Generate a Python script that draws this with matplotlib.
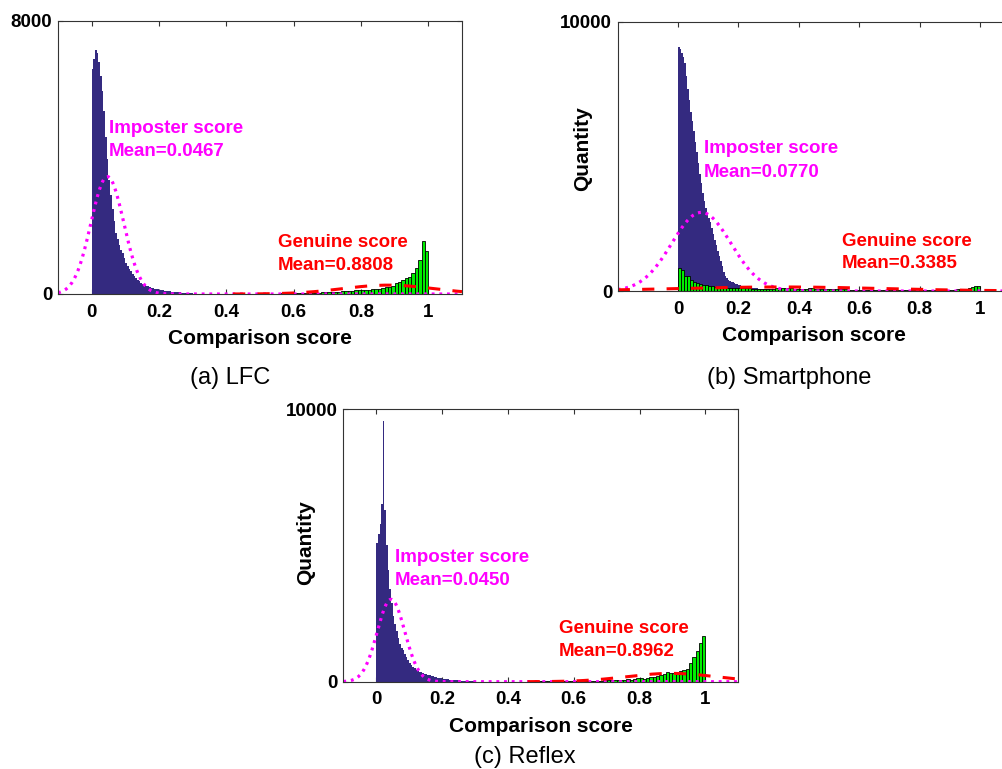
import matplotlib.pyplot as plt
import numpy as np

plt.rcParams['font.family'] = ['Liberation Sans', 'DejaVu Sans']

# imposter histograms, bin width 0.005 starting at 0
imp_a = [6600, 6900, 7150, 7050, 6800, 6400, 5950, 5350, 4600, 3950,
         3350, 2900, 2500, 2150, 1800, 1600, 1450, 1300, 1200, 1050,
         920, 830, 740, 660, 600, 540, 480, 420, 370, 330,
         300, 270, 245, 225, 205, 185, 170, 155, 145, 135,
         125, 115, 105, 96, 88, 80, 74, 68, 62, 57,
         52, 48, 44, 41, 38, 35, 33, 31, 29, 27]
imp_b = [9050, 9000, 8850, 8700, 8450, 8000, 7500, 7100, 6650, 6300,
         5950, 5550, 5150, 4750, 4350, 4000, 3650, 3350, 3100, 2850,
         2700, 2550, 2350, 2100, 1900, 1700, 1500, 1300, 1100, 920,
         720, 560, 470, 420, 380, 350, 320, 290, 270, 250,
         230, 215, 200, 185, 170, 155, 145, 135, 125, 115,
         108, 102, 96, 90, 85, 80, 75, 70, 66, 62,
         58, 55, 52, 49, 46, 44, 42, 40, 38, 36,
         34, 32, 30, 29, 28, 27, 26, 25, 24, 23]
imp_c = [5100, 5400, 5800, 6500, 9550, 6300, 5000, 4100, 3400, 2900,
         2400, 2100, 1850, 1600, 1400, 1250, 1150, 1030, 920, 800,
         700, 620, 550, 490, 440, 400, 370, 340, 310, 285,
         265, 250, 235, 215, 195, 175, 160, 145, 135, 125,
         115, 105, 96, 88, 80, 73, 67, 61, 56, 51,
         47, 43, 40, 37, 34, 31, 29, 27, 25, 23]

# genuine histograms, bin width 0.01
gen_a = [3, 4, 4, 5, 5, 6, 6, 7, 8, 9,
         10, 10, 11, 12, 13, 14, 15, 17, 18, 20,
         22, 24, 26, 28, 31, 34, 38, 42, 46, 50,
         55, 60, 66, 72, 78, 85, 92, 98, 105, 112,
         120, 130, 125, 140, 150, 137, 176, 195, 215, 244,
         322, 342, 410, 469, 508, 605, 762, 1005, 1563, 1250]
gen_b = [870, 790, 570, 540, 410, 340, 290, 260, 225, 210,
         185, 170, 150, 140, 130, 125, 120, 115, 110, 105,
         100, 100, 95, 95, 90, 90, 90, 88, 88, 86,
         86, 90, 95, 100, 120, 115, 100, 95, 90, 88,
         85, 82, 80, 95, 100, 80, 75, 72, 70, 68,
         66, 64, 62, 60, 58, 56, 55, 54, 53, 52,
         51, 50, 49, 48, 48, 47, 46, 46, 45, 45,
         44, 44, 43, 43, 42, 42, 42, 41, 41, 41,
         40, 40, 40, 41, 41, 42, 43, 44, 45, 47,
         50, 53, 56, 60, 65, 75, 110, 160, 185, 170]
gen_c = [3, 3, 4, 4, 5, 5, 6, 6, 7, 8,
         9, 10, 11, 12, 13, 14, 15, 16, 18, 20,
         22, 24, 26, 28, 30, 33, 36, 40, 44, 48,
         52, 56, 60, 65, 70, 75, 110, 80, 90, 150,
         140, 110, 135, 160, 185, 210, 245, 270, 340, 305,
         330, 365, 400, 430, 450, 670, 915, 1135, 1430, 1675]
gen_start = [0.4, 0.0, 0.4]

# gaussian fits: mean, sigma, peak height
imp_fit = [(0.0467, 0.0487, 3440), (0.0770, 0.098, 2920), (0.0450, 0.042, 3020)]
gen_fit = [(0.8808, 0.135, 260), (0.3385, 0.34, 150), (0.8962, 0.135, 305)]
gen_fit_from = [0.42, -0.2, 0.46]

imp_means = ['0.0467', '0.0770', '0.0450']
gen_means = ['0.8808', '0.3385', '0.8962']
ymax = [8000, 10000, 10000]
xmin = [-0.1, -0.2, -0.1]
captions = ['(a) LFC', '(b) Smartphone', '(c) Reflex']

fig = plt.figure(figsize=(10.02, 7.69), dpi=100)
W, H = 1002, 769
boxes = [(58, 21, 462, 294), (617.7, 21.7, 1010.2, 291), (343.3, 409, 738.3, 681.7)]
imp_txt = [(0.052, 4727, 4053), (0.086, 5113, 4244), (0.057, 4400, 3546)]
gen_txt = [(0.554, 1386, 703), (0.5416, 1671, 843), (0.554, 1775, 953)]
ylab_pos = [None, (-0.064, 0.527), (-0.0716, 0.51)]
cap_pos = [(230, 378), (789, 378), (525, 757)]

imp_list = [imp_a, imp_b, imp_c]
gen_list = [gen_a, gen_b, gen_c]

for i in range(3):
    l, t, r, b = boxes[i]
    ax = fig.add_axes([l / W, 1 - b / H, (r - l) / W, (b - t) / H])

    imp = np.array(imp_list[i])
    edges = 0.005 * np.arange(len(imp) + 1)
    ax.stairs(imp, edges, fill=True, color='#342a80', lw=0, zorder=2)

    gen = np.array(gen_list[i])
    gx = gen_start[i] + 0.01 * np.arange(len(gen))
    ax.bar(gx, gen, width=0.01, align='edge', color='#00ee00',
           edgecolor='black', linewidth=0.6, zorder=3)

    x = np.linspace(xmin[i], 1.1, 400)
    m, s, h = imp_fit[i]
    ax.plot(x, h * np.exp(-(x - m) ** 2 / (2 * s ** 2)), color='#ff00ff',
            lw=2.3, dashes=(0.9, 1.5), zorder=4)
    m, s, h = gen_fit[i]
    xg = np.linspace(gen_fit_from[i], 1.1, 300)
    ax.plot(xg, h * np.exp(-(xg - m) ** 2 / (2 * s ** 2)), color='#ff0000',
            lw=2.2, dashes=(4, 4), zorder=4)

    tx, y1, y2 = imp_txt[i]
    ax.text(tx, y1, 'Imposter score', color='#ff00ff', fontsize=13.5,
            fontweight='bold', zorder=5)
    ax.text(tx, y2, 'Mean=' + imp_means[i], color='#ff00ff', fontsize=13.5,
            fontweight='bold', zorder=5)
    tx, y1, y2 = gen_txt[i]
    ax.text(tx, y1, 'Genuine score', color='#ff0000', fontsize=13.5,
            fontweight='bold', zorder=5)
    ax.text(tx, y2, 'Mean=' + gen_means[i], color='#ff0000', fontsize=13.5,
            fontweight='bold', zorder=5)

    ax.set_xlim(xmin[i], 1.1)
    ax.set_ylim(0, ymax[i])
    ax.set_xticks([0, 0.2, 0.4, 0.6, 0.8, 1])
    ax.set_xticklabels(['0', '0.2', '0.4', '0.6', '0.8', '1'])
    ax.set_yticks([0, ymax[i]])
    ax.set_yticklabels(['0', str(ymax[i])])
    ax.tick_params(direction='in', length=3.5, width=0.8, top=True, right=True,
                   labelsize=13.5, color='#333333')
    ax.tick_params(axis='x', pad=7)
    ax.tick_params(axis='y', pad=4)
    for lab in ax.get_xticklabels() + ax.get_yticklabels():
        lab.set_fontweight('bold')
    for sp in ax.spines.values():
        sp.set_color('#333333')
        sp.set_linewidth(0.8)
        sp.set_zorder(6)
    ax.set_xlabel('Comparison score', fontsize=15, fontweight='bold', labelpad=6)
    if ylab_pos[i] is not None:
        ax.set_ylabel('Quantity', fontsize=15, fontweight='bold')
        ax.yaxis.set_label_coords(*ylab_pos[i])

    cx, cy = cap_pos[i]
    fig.text(cx / W, 1 - cy / H, captions[i], fontsize=17, ha='center', va='center')

fig.savefig('out.png', dpi=100)
